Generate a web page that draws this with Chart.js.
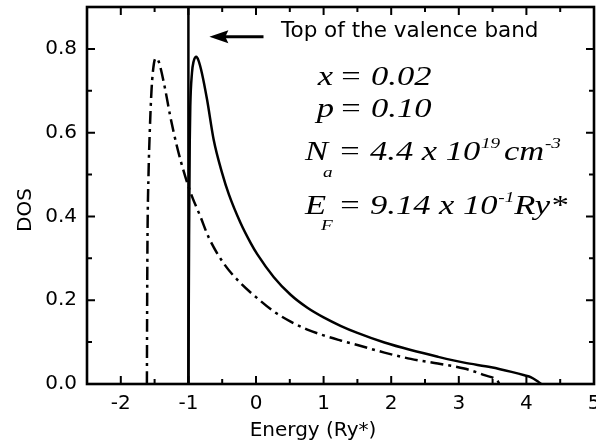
<!DOCTYPE html>
<html><head><meta charset="utf-8">
<script src="https://cdn.jsdelivr.net/npm/chart.js@4.4.0/dist/chart.umd.min.js"></script>
<style>html,body{margin:0;padding:0;background:#fff;}#wrap{width:596px;height:444px;}</style>
</head><body><div id="wrap"><canvas id="c" width="596" height="444"></canvas></div>
<script>
// ---- data ----
const solidEnergy = [-1.0, -0.99, -0.98, -0.972, -0.947, -0.923, -0.883, -0.85, -0.80, -0.724, -0.626, -0.502, -0.40, -0.23, -0.08, 0.018, 0.264, 0.512, 0.76, 1.0, 1.25, 1.5, 1.9, 2.29, 2.69, 3.08, 3.48, 3.78, 3.97, 4.07, 4.17, 4.22];
const solidDOS    = [0, 0.35, 0.58, 0.663, 0.743, 0.77, 0.781, 0.772, 0.742, 0.679, 0.583, 0.504, 0.452, 0.385, 0.337, 0.31, 0.255, 0.213, 0.182, 0.159, 0.139, 0.122, 0.099, 0.081, 0.065, 0.051, 0.040, 0.029, 0.021, 0.016, 0.006, 0];
const dashEnergy  = [-1.614, -1.61, -1.605, -1.59, -1.572, -1.545, -1.51, -1.476, -1.445, -1.417, -1.343, -1.268, -1.169, -1.046, -0.947, -0.823, -0.70, -0.478, -0.23, 0.018, 0.264, 0.512, 0.76, 1.0, 1.25, 1.5, 1.9, 2.29, 2.69, 3.08, 3.38, 3.58, 3.6];
const dashDOS     = [0, 0.2, 0.35, 0.5, 0.6, 0.703, 0.765, 0.778, 0.772, 0.758, 0.703, 0.639, 0.567, 0.495, 0.448, 0.40, 0.35, 0.288, 0.241, 0.205, 0.173, 0.149, 0.130, 0.116, 0.104, 0.093, 0.075, 0.060, 0.049, 0.037, 0.021, 0.006, 0];
const bandTopEnergy = [-1, -1];
const bandTopDOS    = [0, 0.9];
const xRange = [-2.5, 5];
const yRange = [0, 0.9];
const xMajorTicks = [-2, -1, 0, 1, 2, 3, 4, 5];
const xMinorTicks = [-1.5, -0.5, 0.5, 1.5, 2.5, 3.5, 4.5];
const yMajorTicks = [0, 0.2, 0.4, 0.6, 0.8];
const yMinorTicks = [0.1, 0.3, 0.5, 0.7];
const xTitle = 'Energy (Ry*)';
const yTitle = 'DOS';
const arrowLabel = 'Top of the valence band';
const arrowTip = [-0.69, 0.829];
const arrowTail = [0.111, 0.829];

const pts = (xs, ys) => xs.map((x, i) => ({x, y: ys[i]}));
const SANS = '"DejaVu Sans", sans-serif';
const SERIF = '"Liberation Serif", "Times New Roman", serif';
const SX = 1.28;

// draw a run of italic serif pieces, horizontally stretched like the reference
function runs(ctx, x, y, parts, align) {
  ctx.save();
  ctx.translate(x, y); ctx.scale(SX, 1);
  let w = 0;
  for (const p of parts) { ctx.font = 'italic ' + p.s + 'px ' + SERIF; w += (p.g || 0) + ctx.measureText(p.t).width; }
  let cx = align === 'right' ? -w : 0;
  for (const p of parts) {
    ctx.font = 'italic ' + p.s + 'px ' + SERIF;
    cx += (p.g || 0);
    ctx.fillText(p.t, cx, (p.dy || 0));
    cx += ctx.measureText(p.t).width;
  }
  ctx.restore();
}

const decor = {
  id: 'decor',
  afterDraw(chart) {
    const ctx = chart.ctx, a = chart.chartArea, xs = chart.scales.x, ys = chart.scales.y;
    ctx.save();
    ctx.strokeStyle = '#000'; ctx.fillStyle = '#000';
    ctx.lineWidth = 2;
    const tick = (list, len) => {
      for (const v of list) {
        const px = xs.getPixelForValue(v);
        if (px <= a.left + 1 || px >= a.right - 1) continue;
        ctx.beginPath(); ctx.moveTo(px, a.bottom); ctx.lineTo(px, a.bottom - len);
        ctx.moveTo(px, a.top); ctx.lineTo(px, a.top + len); ctx.stroke();
      }
    };
    const ytick = (list, len) => {
      for (const v of list) {
        const py = ys.getPixelForValue(v);
        if (py <= a.top + 1 || py >= a.bottom - 1) continue;
        ctx.beginPath(); ctx.moveTo(a.left, py); ctx.lineTo(a.left + len, py);
        ctx.moveTo(a.right, py); ctx.lineTo(a.right - len, py); ctx.stroke();
      }
    };
    tick(xMajorTicks, 8); tick(xMinorTicks, 5);
    ytick(yMajorTicks, 8); ytick(yMinorTicks, 5);
    ctx.lineWidth = 2.6;
    ctx.strokeRect(a.left, a.top, a.right - a.left, a.bottom - a.top);
    // axis titles
    ctx.font = '20px ' + SANS;
    ctx.textAlign = 'center'; ctx.textBaseline = 'alphabetic';
    ctx.fillText(xTitle, 313, 436);
    ctx.save(); ctx.translate(31, 210); ctx.rotate(-Math.PI / 2);
    ctx.fillText(yTitle, 0, 0); ctx.restore();
    // arrow
    const tx = xs.getPixelForValue(arrowTip[0]), ty = ys.getPixelForValue(arrowTip[1]);
    const ex = xs.getPixelForValue(arrowTail[0]);
    ctx.lineWidth = 3.2;
    ctx.beginPath(); ctx.moveTo(tx + 14, ty); ctx.lineTo(ex, ty); ctx.stroke();
    ctx.beginPath(); ctx.moveTo(tx, ty); ctx.lineTo(tx + 19, ty - 6.5); ctx.lineTo(tx + 16, ty); ctx.lineTo(tx + 19, ty + 6.5); ctx.closePath(); ctx.fill();
    ctx.textAlign = 'left';
    ctx.font = '21.5px ' + SANS;
    ctx.fillText(arrowLabel, 281, 37);
    // parameter block
    ctx.textAlign = 'left';
    runs(ctx, 333, 85, [{t: 'x', s: 27}], 'right');
    runs(ctx, 339, 85, [{t: '= 0.02', s: 27}]);
    runs(ctx, 334, 117, [{t: 'p', s: 27}], 'right');
    runs(ctx, 339, 117, [{t: '= 0.10', s: 27}]);
    runs(ctx, 305, 160, [{t: 'N', s: 27}, {t: 'a', s: 15, dy: 17, g: -4}]);
    runs(ctx, 338, 160, [{t: '= 4.4 x 10', s: 27}, {t: '19', s: 15, dy: -12, g: 0.5}, {t: 'cm', s: 27, g: 3}, {t: '-3', s: 15, dy: -12, g: 0.5}]);
    runs(ctx, 305, 214, [{t: 'E', s: 27}, {t: 'F', s: 15, dy: 16, g: -4}]);
    runs(ctx, 338, 214, [{t: '= 9.14 x 10', s: 27}, {t: '-1', s: 15, dy: -12, g: 0.5}, {t: 'Ry*', s: 27}]);
    ctx.restore();
  }
};

new Chart(document.getElementById('c'), {
  type: 'scatter',
  data: {
    datasets: [
      {data: pts(dashEnergy, dashDOS), showLine: true, borderColor: '#000', borderWidth: 2.5, borderDash: [13, 5, 3, 5], pointRadius: 0, cubicInterpolationMode: 'monotone'},
      {data: pts(solidEnergy, solidDOS), showLine: true, borderColor: '#000', borderWidth: 2.5, pointRadius: 0, cubicInterpolationMode: 'monotone'},
      {data: pts(bandTopEnergy, bandTopDOS), showLine: true, borderColor: '#000', borderWidth: 2.5, pointRadius: 0}
    ]
  },
  options: {
    responsive: false, animation: false,
    layout: {padding: {left: 0, top: 7, right: 2, bottom: 0}},
    plugins: {legend: {display: false}, tooltip: {enabled: false}},
    scales: {
      x: {
        type: 'linear', min: xRange[0], max: xRange[1],
        afterBuildTicks: s => { s.ticks = xMajorTicks.map(v => ({value: v})); },
        afterFit: s => { s.height = 60; s.paddingLeft = 0; s.paddingRight = 0; },
        grid: {display: false, drawTicks: false},
        border: {display: false},
        ticks: {color: '#000', font: {family: SANS, size: 20}, padding: 8, maxRotation: 0, autoSkip: false,
                callback: v => String(v)}
      },
      y: {
        type: 'linear', min: yRange[0], max: yRange[1],
        afterBuildTicks: s => { s.ticks = yMajorTicks.map(v => ({value: v})); },
        afterFit: s => { s.width = 87; s.paddingTop = 0; s.paddingBottom = 0; },
        grid: {display: false, drawTicks: false},
        border: {display: false},
        ticks: {color: '#000', font: {family: SANS, size: 20}, padding: 10, autoSkip: false,
                callback: v => Number(v).toFixed(1)}
      }
    }
  },
  plugins: [decor]
});
</script></body></html>
